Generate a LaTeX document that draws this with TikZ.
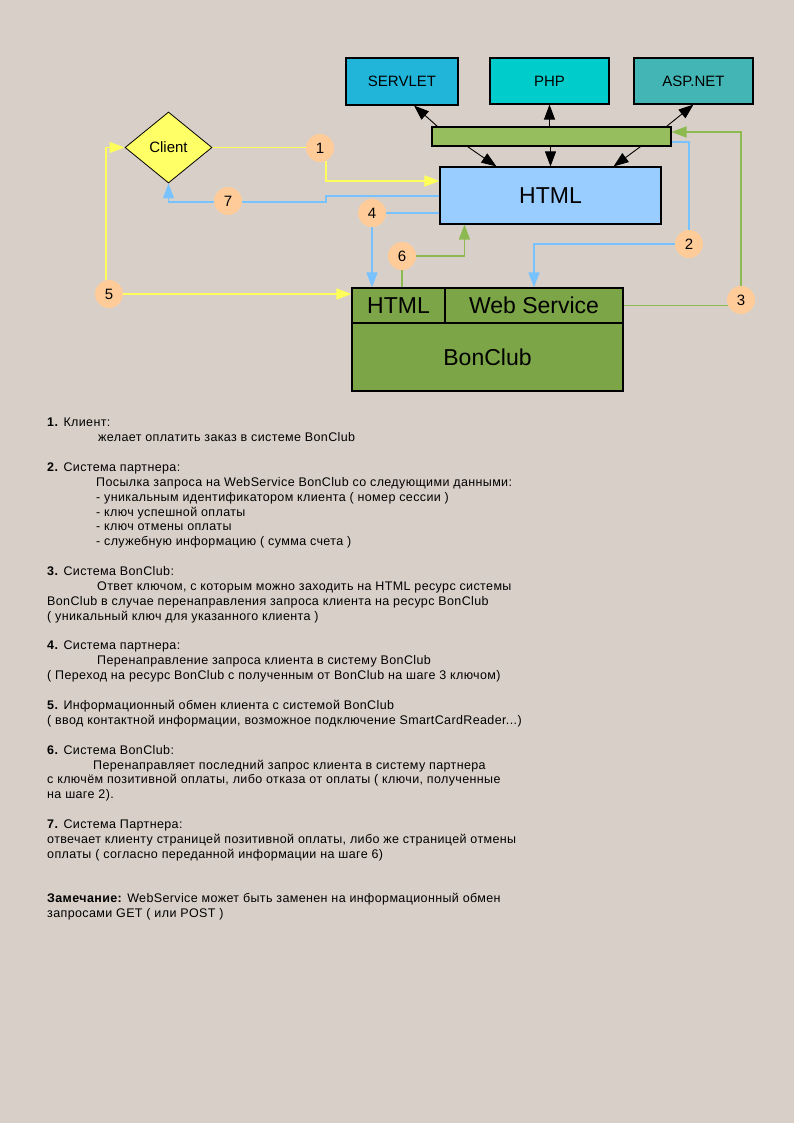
\documentclass[tikz,border=0pt]{standalone}
\usepackage{fontspec}
\setmainfont{Liberation Sans}
\usetikzlibrary{shapes.geometric,arrows.meta,calc}
\definecolor{bgc}{RGB}{216,208,200}
\definecolor{servc}{RGB}{34,181,218}
\definecolor{phpc}{RGB}{0,204,204}
\definecolor{aspc}{RGB}{68,181,181}
\definecolor{barc}{RGB}{150,190,95}
\definecolor{htmlc}{RGB}{153,204,255}
\definecolor{clientc}{RGB}{255,255,102}
\definecolor{bonc}{RGB}{123,165,70}
\definecolor{numc}{RGB}{255,204,153}
\definecolor{ylc}{RGB}{255,255,90}
\definecolor{blc}{RGB}{120,195,255}
\definecolor{glc}{RGB}{140,185,80}
\pgfdeclarelayer{back}
\pgfdeclarelayer{bg}
\pgfsetlayers{back,bg,main}
\begin{document}
\begin{tikzpicture}[x=1pt,y=-1pt,
  box/.style={draw=black, line width=1.1pt, rectangle, inner sep=0pt, font=\fontsize{15}{18}\selectfont},
  big/.style={font=\fontsize{23}{26}\selectfont},
  num/.style={circle, fill=numc, minimum size=28pt, inner sep=0pt, font=\fontsize{15}{18}\selectfont},
  yl/.style={draw=ylc, line width=1.3pt},
  bl/.style={draw=blc, line width=1.3pt},
  gl/.style={draw=glc, line width=1.3pt},
  ka/.style={draw=black, line width=0.9pt, -{Triangle[length=15pt,width=11pt]}},
  tip/.style={-{Triangle[length=15pt,width=11pt]}},
  txt/.style={anchor=base west, inner sep=0pt, font=\fontsize{12.5}{14}\selectfont\addfontfeature{LetterSpace=3}},
]
\useasboundingbox (0,0) rectangle (794,1123);
\begin{pgfonlayer}{back}
\fill[bgc] (0,0) rectangle (794,1123);
\end{pgfonlayer}

% boxes
\node[box, fill=servc, minimum width=112pt, minimum height=47pt] (servlet) at (402,81.5) {SERVLET};
\node[box, fill=phpc, minimum width=119pt, minimum height=46pt] (php) at (549.5,81) {PHP};
\node[box, fill=aspc, minimum width=119pt, minimum height=46pt] (asp) at (693.5,81) {ASP.NET};
\node[box, fill=barc, minimum width=239pt, minimum height=19pt] (bar) at (551.5,136.5) {};
\node[box, big, fill=htmlc, minimum width=221pt, minimum height=57pt] (html) at (550.5,195.5) {HTML};
\node[diamond, draw=black, line width=0.8pt, fill=clientc, minimum width=87pt, minimum height=71pt, inner sep=0pt, aspect=1.2, font=\fontsize{15}{18}\selectfont] (client) at (168.5,147.5) {Client};

\node[box, fill=bonc, minimum width=271pt, minimum height=103pt] (bon) at (487.5,339.5) {};
\node[box, big, fill=bonc, minimum width=93pt, minimum height=35pt] (bhtml) at (398.5,305.5) {HTML};
\node[box, big, fill=bonc, minimum width=178pt, minimum height=35pt] (bws) at (534,305.5) {Web Service};
\node[big] (bonlbl) at (487.5,357) {BonClub};

% numbers
\node[num] (c1) at (320,148) {1};
\node[num] (c2) at (689,244) {2};
\node[num] (c3) at (741,300) {3};
\node[num] (c4) at (372,213) {4};
\node[num] (c5) at (109,294) {5};
\node[num] (c6) at (402,256) {6};
\node[num] (c7) at (228,201) {7};

\coordinate (j7) at (326,202);

\begin{pgfonlayer}{bg}
% black arrows
\draw[ka] ($(bar.north west)+(6,0)$) -- ($(servlet.south)+(12,0)$);
\draw[ka] (bar.north -| php.south) -- (php.south);
\draw[ka] ($(bar.north east)+(-5,0)$) -- (asp.south);
\draw[ka] ($(bar.south west)+(36,0)$) -- ($(html.north west)+(57,0)$);
\draw[ka] (bar.south -| html.north) -- (html.north);
\draw[ka] ($(bar.south east)+(-31,0)$) -- ($(html.north east)+(-48,0)$);
% 1
\draw[yl] (client.east) -- (client.east -| c1);
\draw[yl, tip] (c1.-65) |- ($(html.west)+(0,-14.5)$);
% 7
\draw[bl, tip] ($(html.west)+(0,0.5)$) -| (j7) -- (client.south |- j7) -- (client.south);
% 4
\draw[bl] (c4) -- (c4 -| html.west);
\draw[bl, tip] (c4) -- (c4 |- bhtml.north);
% 6
\draw[gl] (c6) -- (c6 |- bhtml.north);
\draw[gl, tip] (c6) -| ($(html.south west)+(25,0)$);
% 5
\draw[yl, tip] (c5) -- (c5 -| bhtml.west);
\draw[yl, tip] (c5.102) |- (client.west);
% 2
\draw[bl] ($(bar.east)+(0,5.5)$) -| (c2);
\draw[bl, tip] (c2) -| (bws.north);
% 3
\draw[gl] (bws.east) -- (bws.east -| c3);
\draw[gl, tip] (c3) |- ($(bar.east)+(0,-4.5)$);
\end{pgfonlayer}

% text
\node[txt] (t0) at (47,426.7) {\textbf{1.} Клиент:};
\node[txt] (t1) at (98,441.6) {желает оплатить заказ в системе BonClub};
\node[txt] (t3) at (47,471.3) {\textbf{2.} Система партнера:};
\node[txt] (t4) at (96,486.2) {Посылка запроса на WebService BonClub со следующими данными:};
\node[txt] (t5) at (96,501.1) {- уникальным идентификатором клиента ( номер сессии )};
\node[txt] (t6) at (96,516.0) {- ключ успешной оплаты};
\node[txt] (t7) at (96,530.9) {- ключ отмены оплаты};
\node[txt] (t8) at (96,545.7) {- служебную информацию ( сумма счета )};
\node[txt] (t10) at (47,575.5) {\textbf{3.} Система BonClub:};
\node[txt] (t11) at (97,590.4) {Ответ ключом, с которым можно заходить на HTML ресурс системы};
\node[txt] (t12) at (47,605.3) {BonClub в случае перенаправления запроса клиента на ресурс BonClub};
\node[txt] (t13) at (47,620.1) {( уникальный ключ для указанного клиента )};
\node[txt] (t15) at (47,649.9) {\textbf{4.} Система партнера:};
\node[txt] (t16) at (97,664.8) {Перенаправление запроса клиента в систему BonClub};
\node[txt] (t17) at (47,679.7) {( Переход на ресурс BonClub с полученным от BonClub на шаге 3 ключом)};
\node[txt] (t19) at (47,709.4) {\textbf{5.} Информационный обмен клиента с системой BonClub};
\node[txt] (t20) at (47,724.3) {( ввод контактной информации, возможное подключение SmartCardReader...)};
\node[txt] (t22) at (47,754.1) {\textbf{6.} Система BonClub:};
\node[txt] (t23) at (93,769.0) {Перенаправляет последний запрос клиента в систему партнера};
\node[txt] (t24) at (47,783.8) {с ключём позитивной оплаты, либо отказа от оплаты ( ключи, полученные};
\node[txt] (t25) at (47,798.7) {на шаге 2).};
\node[txt] (t27) at (47,828.5) {\textbf{7.} Система Партнера:};
\node[txt] (t28) at (47,843.4) {отвечает клиенту страницей позитивной оплаты, либо же страницей отмены};
\node[txt] (t29) at (47,858.2) {оплаты ( согласно переданной информации на шаге 6)};
\node[txt] (t32) at (47,902.9) {\textbf{Замечание:} WebService может быть заменен на информационный обмен};
\node[txt] (t33) at (47,917.7) {запросами GET ( или POST )};
\end{tikzpicture}
\end{document}
